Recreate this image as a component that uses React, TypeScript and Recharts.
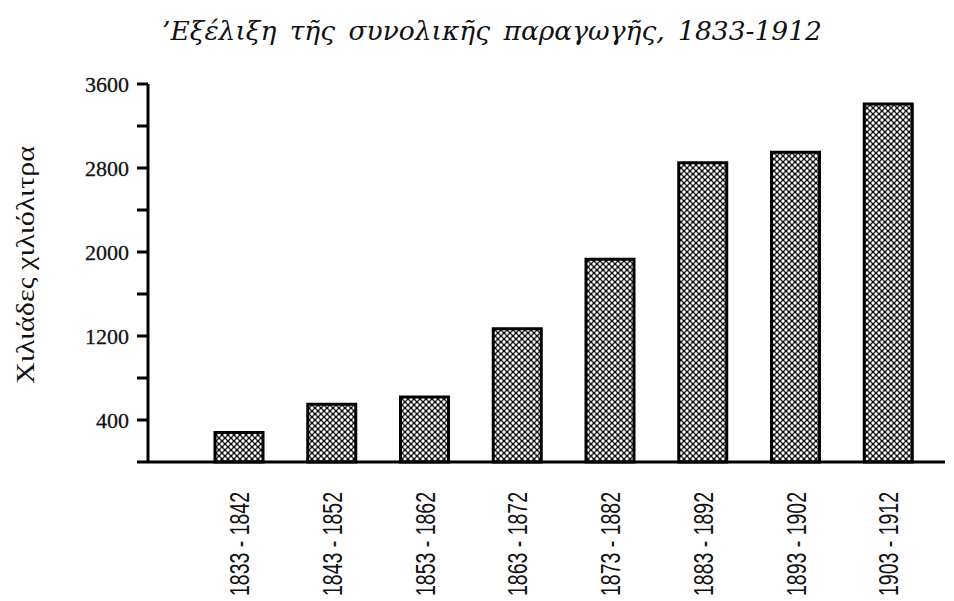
import React from "react";
import { BarChart, Bar, XAxis, YAxis, Label } from "recharts";

const periods = [
  "1833 - 1842",
  "1843 - 1852",
  "1853 - 1862",
  "1863 - 1872",
  "1873 - 1882",
  "1883 - 1892",
  "1893 - 1902",
  "1903 - 1912",
];
const production = [280, 550, 620, 1270, 1930, 2850, 2950, 3410];
const yTicks = [0, 400, 800, 1200, 1600, 2000, 2400, 2800, 3200, 3600];
const labeledTicks = [400, 1200, 2000, 2800, 3600];
const title = "’Εξέλιξη τῆς συνολικῆς παραγωγῆς, 1833-1912";
const yTitle = "Χιλιάδες χιλιόλιτρα";

const data = periods.map((p, i) => ({ period: p, value: production[i] }));

const YTick = (props: any) => {
  const { x, y, payload } = props;
  if (!labeledTicks.includes(payload.value)) return null;
  return (
    <text
      x={x}
      y={y}
      dy="0.35em"
      textAnchor="end"
      fontFamily="'Liberation Serif', serif"
      fontSize={22}
      fill="#111"
      stroke="#111"
      strokeWidth={0.3}
    >
      {payload.value}
    </text>
  );
};

const XTick = (props: any) => {
  const { x, y, payload } = props;
  const ty = y + 22;
  return (
    <text
      x={x}
      y={ty}
      dy="0.36em"
      textAnchor="end"
      textLength={104}
      lengthAdjust="spacingAndGlyphs"
      transform={`rotate(-90, ${x}, ${ty})`}
      fontFamily="'Liberation Sans', sans-serif"
      fontSize={27}
      fill="#111"
    >
      {payload.value}
    </text>
  );
};

const YTitle = (props: any) => {
  const { viewBox } = props;
  const cy = viewBox.y + viewBox.height / 2 - 8;
  const cx = 25;
  return (
    <text
      x={cx}
      y={cy}
      textAnchor="middle"
      dy="0.35em"
      textLength={238}
      lengthAdjust="spacingAndGlyphs"
      transform={`rotate(-90, ${cx}, ${cy})`}
      fontFamily="'Liberation Serif', serif"
      fontSize={25}
      fill="#111"
    >
      {yTitle}
    </text>
  );
};

export default function App() {
  return (
    <div style={{ position: "absolute", left: 0, top: 0, width: 954, height: 601, background: "#fff" }}>
      <div
        style={{
          position: "absolute",
          left: 0,
          top: 15,
          width: 984,
          textAlign: "center",
          fontFamily: "'DejaVu Serif', serif",
          fontStyle: "italic",
          fontSize: 26.5,
          color: "#111",
          wordSpacing: 5,
          whiteSpace: "nowrap",
        }}
      >
        {title}
      </div>
      <BarChart
        width={954}
        height={601}
        data={data}
        margin={{ top: 84, right: 9, bottom: 0, left: 0 }}
      >
        <defs>
          <pattern id="halftone" width="6" height="6" patternUnits="userSpaceOnUse">
            <rect width="6" height="6" fill="#111" />
            <circle cx="0" cy="0" r="1.65" fill="#fff" />
            <circle cx="6" cy="0" r="1.65" fill="#fff" />
            <circle cx="0" cy="6" r="1.65" fill="#fff" />
            <circle cx="6" cy="6" r="1.65" fill="#fff" />
            <circle cx="3" cy="3" r="1.65" fill="#fff" />
          </pattern>
        </defs>
        <XAxis
          dataKey="period"
          interval={0}
          height={139}
          padding={{ left: 45, right: 10 }}
          axisLine={{ stroke: "#000", strokeWidth: 3 }}
          tickLine={false}
          tick={<XTick />}
        />
        <YAxis
          width={148}
          domain={[0, 3600]}
          ticks={yTicks}
          interval={0}
          axisLine={{ stroke: "#000", strokeWidth: 3 }}
          tickLine={{ stroke: "#000", strokeWidth: 3 }}
          tickSize={11}
          tickMargin={8}
          tick={<YTick />}
        >
          <Label content={<YTitle />} />
        </YAxis>
        <Bar
          dataKey="value"
          barSize={48}
          fill="url(#halftone)"
          stroke="#000"
          strokeWidth={3}
          isAnimationActive={false}
        />
      </BarChart>
    </div>
  );
}
